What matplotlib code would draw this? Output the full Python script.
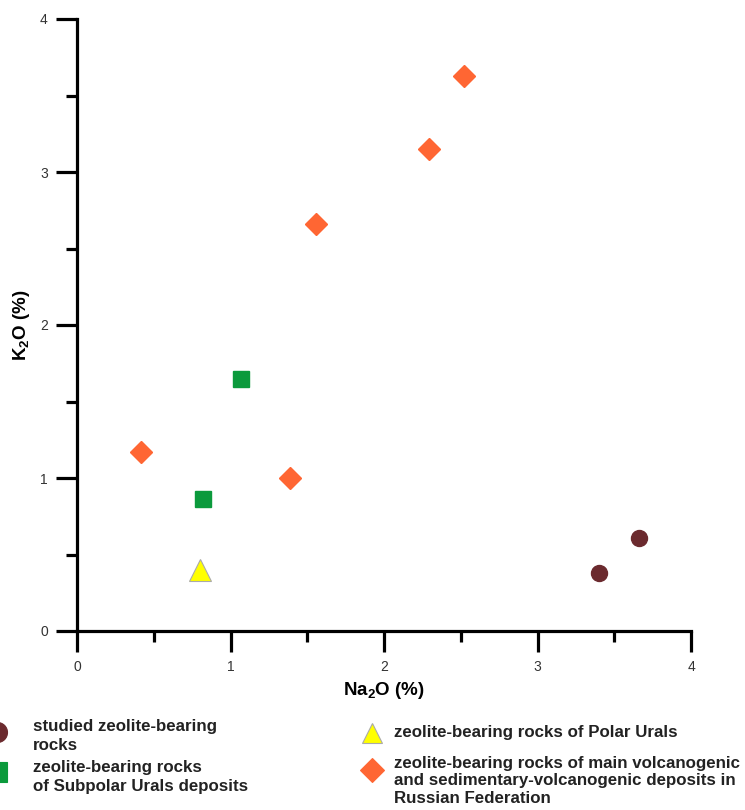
import matplotlib
matplotlib.use("Agg")
import matplotlib.pyplot as plt
from matplotlib.lines import Line2D
from matplotlib.ticker import MultipleLocator

plt.rcParams['font.family'] = ['Liberation Sans', 'DejaVu Sans']
plt.rcParams['mathtext.fontset'] = 'custom'
plt.rcParams['mathtext.rm'] = 'Liberation Sans:bold'
plt.rcParams['mathtext.bf'] = 'Liberation Sans:bold'
plt.rcParams['mathtext.it'] = 'Liberation Sans:bold'

# Data (Na2O %, K2O %)
studied_na = [3.40, 3.66]
studied_k = [0.38, 0.61]
subpolar_na = [1.07, 0.82]
subpolar_k = [1.65, 0.86]
polar_na = [0.80]
polar_k = [0.40]
russia_na = [0.42, 1.39, 1.56, 2.29, 2.52]
russia_k = [1.17, 1.00, 2.66, 3.15, 3.63]

labels = [
    "studied zeolite-bearing\nrocks",
    "zeolite-bearing rocks\nof Subpolar Urals deposits",
    "zeolite-bearing rocks of Polar Urals",
    "zeolite-bearing rocks of main volcanogenic\nand sedimentary-volcanogenic deposits in\nRussian Federation",
]

c_studied = '#6b2a2e'
c_subpolar = '#0b9a3c'
c_polar = '#ffff00'
c_russia = '#ff6633'

W, H = 745, 810
fig = plt.figure(figsize=(W / 100, H / 100), dpi=100)
ax = fig.add_axes([77 / W, 1 - 631 / H, (691 - 77) / W, (631 - 19) / H])

ax.plot(studied_na, studied_k, 'o', ms=11.5, color=c_studied, mec=c_studied, ls='none', clip_on=False)
ax.plot(subpolar_na, subpolar_k, 's', ms=11.5, color=c_subpolar, mec=c_subpolar, ls='none', clip_on=False)
ax.plot(polar_na, polar_k, '^', ms=16.5, color=c_polar, mec='#aaaaaa', mew=0.8, ls='none', clip_on=False)
ax.plot(russia_na, russia_k, 'D', ms=11.7, color=c_russia, mec=c_russia, ls='none', clip_on=False)

ax.set_xlim(0, 4)
ax.set_ylim(0, 4)
ax.xaxis.set_major_locator(MultipleLocator(1))
ax.xaxis.set_minor_locator(MultipleLocator(0.5))
ax.yaxis.set_major_locator(MultipleLocator(1))
ax.yaxis.set_minor_locator(MultipleLocator(0.5))
for s in ['top', 'right']:
    ax.spines[s].set_visible(False)
for s in ['left', 'bottom']:
    ax.spines[s].set_linewidth(2.3)
ax.tick_params(which='major', direction='out', length=15, width=2.3, labelsize=10,
               labelcolor='#333333', pad=6)
ax.tick_params(which='minor', direction='out', length=8, width=2.3)
ax.set_xlabel(r'Na$_{2}$O (%)', fontsize=13.5, fontweight='bold', labelpad=4)
ax.set_ylabel(r'K$_{2}$O (%)', fontsize=13.5, fontweight='bold', labelpad=6)

# Legend (manual, in pixel coordinates)
def fx(px):
    return px / W

def fy(py):
    return 1 - py / H

handles = [
    ('o', c_studied, c_studied, 14.4, -3, 732),
    ('s', c_subpolar, c_subpolar, 14.4, -3, 772),
    ('^', c_polar, '#aaaaaa', 14.4, 372, 733),
    ('D', c_russia, c_russia, 12.0, 372, 770),
]
for m, fc, ec, ms, x, y in handles:
    fig.add_artist(Line2D([fx(x)], [fy(y)], marker=m, ms=ms, color=fc, mec=ec,
                          mew=0.8, ls='none', transform=fig.transFigure))

text_pos = [(33, 736), (33, 777), (394, 733), (394, 781)]
spacings = [1.27, 1.27, 1.27, 1.2]
for (x, y), lab, lsp in zip(text_pos, labels, spacings):
    fig.text(fx(x), fy(y), lab, fontsize=12.2, fontweight='bold', color='#222222',
             ha='left', va='center', linespacing=lsp)

fig.savefig('out.png', dpi=100)
